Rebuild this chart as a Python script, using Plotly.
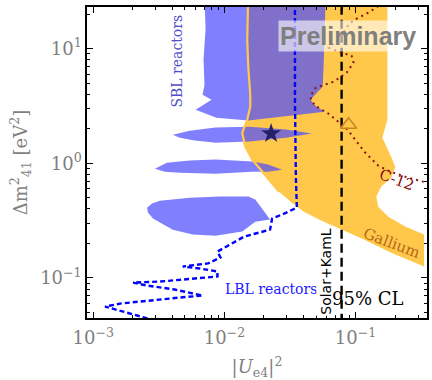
import plotly.graph_objects as go

# ---------------- data (|U_e4|^2 , Delta m^2_41 [eV^2]) ----------------
gallium_x = [0.0152, 0.01493, 0.0152, 0.01574, 0.01574, 0.01493, 0.01368, 0.01442, 0.0163, 0.01811,
             0.02153, 0.0261, 0.0327, 0.0404, 0.0525, 0.0743, 0.117, 0.187, 0.333,
             0.333, 0.239, 0.178, 0.149, 0.144, 0.157, 0.187, 0.201, 0.184, 0.160, 0.175, 0.175, 0.175]
gallium_y = [30, 12.0, 6.97, 3.97, 3.12, 2.40, 1.85, 1.40, 1.08, 0.935,
             0.721, 0.566, 0.454, 0.379, 0.323, 0.270, 0.216, 0.166, 0.126,
             0.239, 0.281, 0.343, 0.419, 0.513, 0.627, 0.750, 0.935, 1.19, 1.67, 2.40, 8.02, 30]

sbl_main_x = [0.00705, 0.00718, 0.00693, 0.00705, 0.00681, 0.00797, 0.00603, 0.00869, 0.0152,
              0.0275, 0.0582, 0.0489, 0.0456, 0.0507, 0.0562, 0.0573, 0.0582, 0.0593]
sbl_main_y = [30, 14.7, 8.02, 4.86, 3.97, 3.59, 2.94, 2.50, 2.36,
              2.55, 2.82, 3.19, 3.59, 4.13, 4.67, 8.02, 14.7, 30]

sbl_isl2_x = [0.00404, 0.00543, 0.00855, 0.0155, 0.0295, 0.0464, 0.0295, 0.0155, 0.00855, 0.00593, 0.00456]
sbl_isl2_y = [1.78, 1.93, 2.05, 2.09, 1.97, 1.82, 1.67, 1.55, 1.51, 1.58, 1.67]

sbl_isl3_x = [0.00295, 0.00364, 0.00543, 0.00855, 0.0163, 0.02153, 0.0275, 0.02153, 0.0163, 0.00855, 0.00456, 0.00351]
sbl_isl3_y = [0.899, 1.01, 1.06, 1.08, 1.04, 0.975, 0.881, 0.847, 0.847, 0.813, 0.830, 0.847]

sbl_isl4_x = [0.00257, 0.00280, 0.00322, 0.00543, 0.00916, 0.0152, 0.0172, 0.0191, 0.0223,
              0.0172, 0.01368, 0.00855, 0.00573, 0.00404, 0.00285, 0.00261]
sbl_isl4_y = [0.411, 0.446, 0.473, 0.502, 0.513, 0.513, 0.483, 0.411, 0.323,
              0.310, 0.254, 0.234, 0.239, 0.264, 0.330, 0.372]

lbl_x = [0.0345, 0.0345, 0.0351, 0.0357, 0.0285, 0.0231, 0.0223, 0.01418, 0.00885, 0.00933,
         0.00750, 0.00481, 0.00647, 0.00885, 0.00885, 0.00543, 0.00322, 0.00201, 0.00257,
         0.00418, 0.00681, 0.00456, 0.00270, 0.00160, 0.00123, 0.00160, 0.00227, 0.00295, 0.00351]
lbl_y = [30, 3.59, 0.721, 0.411, 0.364, 0.330, 0.264, 0.230, 0.170, 0.151,
         0.134, 0.126, 0.121, 0.114, 0.103, 0.0988, 0.0931, 0.0912, 0.0859,
         0.0793, 0.0703, 0.0675, 0.0635, 0.0598, 0.0563, 0.0520, 0.0461, 0.0426, 0.0393]

c12_x = [0.163, 0.125, 0.0982, 0.0885, 0.0769, 0.0624, 0.0743, 0.0933, 0.0966, 0.0855, 0.0681,
         0.0498, 0.0449, 0.0489, 0.0624, 0.0869, 0.117, 0.149, 0.184, 0.252, 0.370]
c12_y = [25.2, 20.6, 17.9, 16.2, 12.5, 10.2, 9.42, 8.69, 7.55, 6.18, 5.15,
         4.57, 3.82, 3.19, 2.71, 1.97, 1.26, 0.955, 0.847, 0.750, 0.666]

solar_kaml_limit = 0.0783
bestfit_star = (0.0227, 1.82)
bestfit_triangle = (0.0885, 2.17)

x_major = [1e-3, 1e-2, 1e-1]
x_labels = ['10<sup>−3</sup>', '10<sup>−2</sup>', '10<sup>−1</sup>']
y_major = [1e-1, 1e0, 1e1]
y_labels = ['10<sup>−1</sup>', '10<sup>0</sup>', '10<sup>1</sup>']

# ---------------- styles ----------------
ORANGE = '#ffc84a'
BLUE_FILL = 'rgba(74,74,255,0.7)'
GREY = '#7f7f7f'
SERIF = 'DejaVu Serif'

fig = go.Figure()

fig.add_trace(go.Scatter(x=gallium_x, y=gallium_y, fill='toself', fillcolor=ORANGE,
                         mode='lines', line=dict(width=0, color=ORANGE), hoverinfo='skip'))
for xs, ys in [(sbl_main_x, sbl_main_y), (sbl_isl2_x, sbl_isl2_y),
               (sbl_isl3_x, sbl_isl3_y), (sbl_isl4_x, sbl_isl4_y)]:
    fig.add_trace(go.Scatter(x=xs, y=ys, fill='toself', fillcolor=BLUE_FILL,
                             mode='lines', line=dict(width=0), hoverinfo='skip'))
# gallium contour edge visible through the blue region
fig.add_trace(go.Scatter(x=gallium_x[:12], y=gallium_y[:12], mode='lines',
                         line=dict(color=ORANGE, width=2.2), hoverinfo='skip'))
# Solar+KamLAND limit
fig.add_trace(go.Scatter(x=[solar_kaml_limit, solar_kaml_limit], y=[0.01, 100], mode='lines',
                         line=dict(color='black', width=2.4, dash='9px,5px'), hoverinfo='skip'))
# LBL reactors
fig.add_trace(go.Scatter(x=lbl_x, y=lbl_y, mode='lines',
                         line=dict(color='#0000ff', width=2.4, dash='5px,3px'), hoverinfo='skip'))
# C-12
fig.add_trace(go.Scatter(x=c12_x, y=c12_y, mode='lines',
                         line=dict(color='#8b1010', width=2, dash='2px,4px'), hoverinfo='skip'))
# markers
fig.add_trace(go.Scatter(x=[bestfit_star[0]], y=[bestfit_star[1]], mode='markers',
                         marker=dict(symbol='star', size=15, color='#22226b'), hoverinfo='skip'))
fig.add_trace(go.Scatter(x=[bestfit_triangle[0]], y=[bestfit_triangle[1]], mode='markers',
                         marker=dict(symbol='triangle-up-open', size=14, color='#c8861e',
                                     line=dict(width=1.5)), hoverinfo='skip'))

axis_common = dict(type='log', showgrid=False, zeroline=False, showline=True, linecolor='black',
                   linewidth=1.5, mirror='ticks', ticks='inside', ticklen=6, tickwidth=1.2,
                   tickcolor='black', tickfont=dict(family=SERIF, size=18, color=GREY))

x_minor = [m * d for d in [1e-3, 1e-2, 1e-1] for m in range(2, 10)]
y_minor = [m * d for d in [1e-2, 1e-1, 1e0, 1e1] for m in range(2, 10)]

fig.update_xaxes(**axis_common, range=[-3.048, -0.455], tickmode='array', tickvals=x_major,
                 ticktext=x_labels, ticklabelstandoff=3,
                 minor=dict(tickmode='array', tickvals=x_minor, ticks='inside', ticklen=3.5,
                            tickcolor='black', tickwidth=1),
                 title=dict(text='|<i>U</i><sub>e4</sub>|<sup>2</sup>',
                            font=dict(family=SERIF, size=18, color=GREY), standoff=14))
fig.update_yaxes(**axis_common, range=[-1.349, 1.364], tickmode='array', tickvals=y_major,
                 ticktext=y_labels,
                 minor=dict(tickmode='array', tickvals=y_minor, ticks='inside', ticklen=3.5,
                            tickcolor='black', tickwidth=1),
                 title=dict(text='Δm<sup>2</sup><sub>41</sub> [eV<sup>2</sup>]',
                            font=dict(family=SERIF, size=18, color=GREY), standoff=8))

ann = [
    dict(text='SBL reactors', x=0.266, y=0.826, textangle=-90,
         font=dict(family=SERIF, size=14, color='#5050c8')),
    dict(text='LBL reactors', x=0.541, y=0.093,
         font=dict(family=SERIF, size=14, color='#1a1aff')),
    dict(text='Solar+KamL', x=0.702, y=0.151, textangle=-90, bgcolor='rgba(255,255,255,0.7)',
         borderpad=1, font=dict(family='DejaVu Sans', size=14, color='black')),
    dict(text='95% CL', x=0.825, y=0.064,
         font=dict(family=SERIF, size=18, color='black')),
    dict(text='Gallium', x=0.895, y=0.241, textangle=21,
         font=dict(family=SERIF, size=15, color='#b5671a')),
    dict(text='C-12', x=0.912, y=0.444, textangle=20,
         font=dict(family=SERIF, size=15, color='#8b1010')),
    dict(text='Preliminary', x=0.769, y=0.907, bgcolor='rgba(255,255,255,0.6)', borderpad=1,
         font=dict(family='Liberation Sans', size=25, color='#7f7f7f', weight='bold')),
]
for a in ann:
    fig.add_annotation(xref='paper', yref='paper', showarrow=False, xanchor='center',
                       yanchor='middle', **a)

fig.update_layout(width=432, height=380, margin=dict(l=87, r=3, t=7, b=62),
                  paper_bgcolor='white', plot_bgcolor='white', showlegend=False,
                  font=dict(family=SERIF))

fig.write_html('out.html')
